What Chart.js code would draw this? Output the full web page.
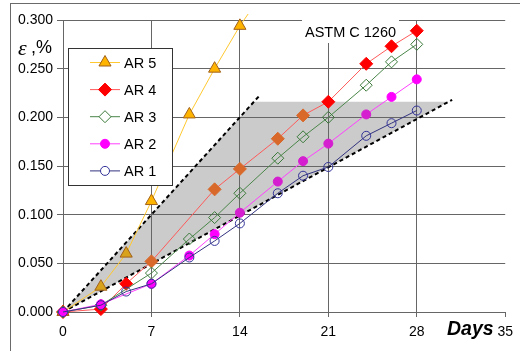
<!DOCTYPE html>
<html>
<head>
<meta charset="utf-8">
<script src="https://cdn.jsdelivr.net/npm/chart.js@4.4.1/dist/chart.umd.min.js"></script>
<style>
  html, body { margin: 0; padding: 0; background: #fff; overflow: hidden; }
  #wrap { position: relative; width: 520px; height: 351px; }
  #frame { position: absolute; left: 10px; top: 3px; width: 600px; height: 400px;
           border-left: 1px solid #6a6a6a; border-top: 1px solid #6a6a6a; }
  canvas { position: absolute; left: 0; top: 0; }
  .lbl { position: absolute; white-space: nowrap; line-height: 1; color: #000; }
</style>
</head>
<body>
<div id="wrap">
  <div id="frame"></div>
  <canvas id="c" width="520" height="351"></canvas>
  <span class="lbl" style="left:305px; top:23.7px; font:14.5px 'Liberation Sans', Arial, sans-serif;">ASTM C 1260</span>
  <span class="lbl" style="left:18px; top:34.5px; font:italic 22px 'Liberation Serif', 'Times New Roman', serif;">ε</span>
  <span class="lbl" style="left:31px; top:37.3px; font:18px 'Liberation Sans', Arial, sans-serif;">,%</span>
  <span class="lbl" style="left:447px; top:316.8px; font:italic bold 19.5px 'Liberation Sans', Arial, sans-serif;">Days</span>
</div>
<script>
// ---- data ----
const seriesNames = ['AR 5', 'AR 4', 'AR 3', 'AR 2', 'AR 1'];

const ar5Days = [0, 3, 5, 7, 10, 12, 14, 17];
const ar5Vals = [0, 0.026, 0.060, 0.114, 0.203, 0.250, 0.294, 0.350];

const ar4Days = [0, 3, 5, 7, 12, 14, 17, 19, 21, 24, 26, 28];
const ar4Vals = [0, 0.003, 0.029, 0.052, 0.126, 0.147, 0.178, 0.202, 0.216, 0.255, 0.273, 0.289];

const ar3Days = [0, 3, 7, 10, 12, 14, 17, 19, 21, 24, 26, 28];
const ar3Vals = [0, 0.007, 0.040, 0.075, 0.097, 0.122, 0.158, 0.180, 0.200, 0.233, 0.257, 0.275];

const ar2Days = [0, 3, 7, 10, 12, 14, 17, 19, 21, 24, 26, 28];
const ar2Vals = [0, 0.008, 0.029, 0.058, 0.080, 0.102, 0.134, 0.155, 0.173, 0.203, 0.221, 0.239];

const ar1Days = [0, 3, 5, 7, 10, 12, 14, 17, 19, 21, 24, 26, 28];
const ar1Vals = [0, 0.007, 0.021, 0.029, 0.056, 0.073, 0.091, 0.122, 0.140, 0.149, 0.181, 0.194, 0.207];

// ASTM C 1260 band (grey area) and its dashed limit lines
const bandDays = [0, 15.1, 30.5];
const bandVals = [0, 0.216, 0.216];
const upperLimitDays = [0, 15.6];
const upperLimitVals = [0, 0.223];
const lowerLimitDays = [0, 30.8];
const lowerLimitVals = [0, 0.218];

const xTicks = [0, 7, 14, 21, 28, 35];
const yTicks = [0, 0.05, 0.10, 0.15, 0.20, 0.25, 0.30];

// ---- helpers ----
const pts = (xs, ys) => xs.map((x, i) => ({ x: x, y: ys[i] }));
const upperSlope = bandVals[1] / bandDays[1];
const lowerSlope = bandVals[2] / bandDays[2];
const bandTop = bandVals[1];
function inBand(p) {
  if (!p || p.x <= 0) return false;
  return p.y >= lowerSlope * p.x - 0.001 && p.y <= upperSlope * p.x && p.y < bandTop;
}
const shaded = (normal, inside) => (ctx) => inBand(ctx.raw) ? inside : normal;

const FONT = "'Liberation Sans', Arial, sans-serif";
const GRID = '#666666';

const legendStyle = [
  { line: '#FFC830', style: 'triangle', r: 7,   fill: '#FFB400', stroke: '#A0601A' },
  { line: '#FF5A5A', style: 'rectRot',  r: 6.5, fill: '#FF0000', stroke: '#FF0000' },
  { line: '#4A864A', style: 'rectRot',  r: 6,   fill: '#FFFFFF', stroke: '#3A7A3A' },
  { line: '#FF40FF', style: 'circle',   r: 4.5, fill: '#FF00FF', stroke: '#FF00FF' },
  { line: '#333380', style: 'circle',   r: 4.5, fill: '#FFFFFF', stroke: '#333399' }
];

const datasets = [
  { label: seriesNames[0], data: pts(ar5Days, ar5Vals), order: 5,
    borderColor: '#FFC830', borderWidth: 1, pointStyle: 'triangle', pointRadius: 7,
    pointBackgroundColor: shaded('#FFB400', '#D9A21B'), pointBorderColor: '#A0601A', pointBorderWidth: 1 },
  { label: seriesNames[1], data: pts(ar4Days, ar4Vals), order: 4,
    borderColor: '#FF5A5A', borderWidth: 1, pointStyle: 'rectRot', pointRadius: 6.5,
    pointBackgroundColor: shaded('#FF0000', '#D8692A'), pointBorderColor: shaded('#FF0000', '#D8692A'), pointBorderWidth: 1 },
  { label: seriesNames[2], data: pts(ar3Days, ar3Vals), order: 3,
    borderColor: '#4A864A', borderWidth: 1, pointStyle: 'rectRot', pointRadius: 6,
    pointBackgroundColor: 'rgba(0,0,0,0)', pointBorderColor: '#3A7A3A', pointBorderWidth: 1 },
  { label: seriesNames[3], data: pts(ar2Days, ar2Vals), order: 2,
    borderColor: '#FF40FF', borderWidth: 1, pointStyle: 'circle', pointRadius: 4.5,
    pointBackgroundColor: shaded('#FF00FF', '#D41ECF'), pointBorderColor: shaded('#FF00FF', '#D41ECF'), pointBorderWidth: 1 },
  { label: seriesNames[4], data: pts(ar1Days, ar1Vals), order: 1,
    borderColor: '#333380', borderWidth: 1, pointStyle: 'circle', pointRadius: 4.5,
    pointBackgroundColor: 'rgba(0,0,0,0)', pointBorderColor: '#333399', pointBorderWidth: 1 },
  { label: 'upper limit', data: pts(upperLimitDays, upperLimitVals), order: 10,
    borderColor: '#000', borderWidth: 2, borderDash: [4, 3], pointRadius: 0 },
  { label: 'lower limit', data: pts(lowerLimitDays, lowerLimitVals), order: 10,
    borderColor: '#000', borderWidth: 2, borderDash: [4, 3], pointRadius: 0 }
];
datasets.forEach(d => { d.clip = false; d.fill = false; d.tension = 0; });

// clip every dataset to the plot area plus a small margin (the AR 5 line runs a little above 0.300)
const clipPlugin = {
  id: 'areaClip',
  beforeDatasetDraw(chart) {
    const a = chart.chartArea, ctx = chart.ctx;
    ctx.save();
    ctx.beginPath();
    ctx.rect(a.left - 10, a.top - 6, a.right - a.left + 20, a.bottom - a.top + 16);
    ctx.clip();
  },
  afterDatasetDraw(chart) {
    chart.ctx.restore();
  }
};

// grey band drawn under the grid, using the chart's scales
const bandPlugin = {
  id: 'band',
  beforeDraw(chart) {
    const xs = chart.scales.x, ys = chart.scales.y, ctx = chart.ctx;
    ctx.save();
    ctx.fillStyle = '#CBCBCB';
    ctx.beginPath();
    bandDays.forEach((d, i) => {
      const px = xs.getPixelForValue(d), py = ys.getPixelForValue(bandVals[i]);
      if (i === 0) ctx.moveTo(px, py); else ctx.lineTo(px, py);
    });
    ctx.closePath();
    ctx.fill();
    ctx.restore();
  },
  // white label box behind "ASTM C 1260": above the grid, below the series
  beforeDatasetsDraw(chart) {
    const ctx = chart.ctx;
    ctx.save();
    ctx.fillStyle = '#fff';
    ctx.fillRect(302, 18, 97, 25);
    ctx.restore();
  }
};

// boxed legend inside the plot
const legendPlugin = {
  id: 'boxLegend',
  afterDatasetsDraw(chart) {
    const ctx = chart.ctx;
    ctx.save();
    ctx.fillStyle = '#fff';
    ctx.fillRect(68, 48, 104, 137);
    ctx.strokeStyle = '#333';
    ctx.lineWidth = 1;
    ctx.strokeRect(68.5, 48.5, 104, 137);
    seriesNames.forEach((name, i) => {
      const s = legendStyle[i];
      const y = 62.5 + i * 27.1;
      ctx.strokeStyle = s.line;
      ctx.lineWidth = 1;
      ctx.beginPath(); ctx.moveTo(90, y); ctx.lineTo(120, y); ctx.stroke();
      ctx.fillStyle = s.fill;
      ctx.strokeStyle = s.stroke;
      Chart.helpers.drawPoint(ctx, { pointStyle: s.style, radius: s.r, borderWidth: 1, rotation: 0 }, 105, y);
      ctx.fillStyle = '#000';
      ctx.font = '14.5px ' + FONT;
      ctx.textBaseline = 'middle';
      ctx.textAlign = 'left';
      ctx.fillText(name, 124, y + 1);
    });
    ctx.restore();
  }
};

new Chart(document.getElementById('c'), {
  type: 'line',
  data: { datasets: datasets },
  plugins: [bandPlugin, clipPlugin, legendPlugin],
  options: {
    responsive: false,
    animation: false,
    devicePixelRatio: 1,
    layout: { padding: { left: 0, right: 6, top: 20, bottom: 0 } },
    plugins: { legend: { display: false }, tooltip: { enabled: false } },
    scales: {
      x: {
        type: 'linear', min: 0, max: 35,
        afterBuildTicks: (s) => { s.ticks = xTicks.map(v => ({ value: v })); },
        afterFit: (s) => { s.height = 39; },
        ticks: { color: '#000', font: { family: FONT, size: 14 }, padding: 7, maxRotation: 0,
                 callback: (v) => String(v) },
        grid: { color: (c) => (c.tick && c.tick.value === 35) ? 'rgba(0,0,0,0)' : GRID,
                tickColor: GRID, tickLength: 5, lineWidth: 1 },
        border: { color: GRID, width: 1 }
      },
      y: {
        type: 'linear', min: 0, max: 0.3,
        afterBuildTicks: (s) => { s.ticks = yTicks.map(v => ({ value: v })); },
        afterFit: (s) => { s.width = 63; },
        ticks: { color: '#000', font: { family: FONT, size: 14 }, padding: 4,
                 callback: (v) => Number(v).toFixed(3) },
        grid: { color: GRID, tickColor: GRID, tickLength: 6, lineWidth: 1 },
        border: { color: GRID, width: 1 }
      }
    }
  }
});
</script>
</body>
</html>
